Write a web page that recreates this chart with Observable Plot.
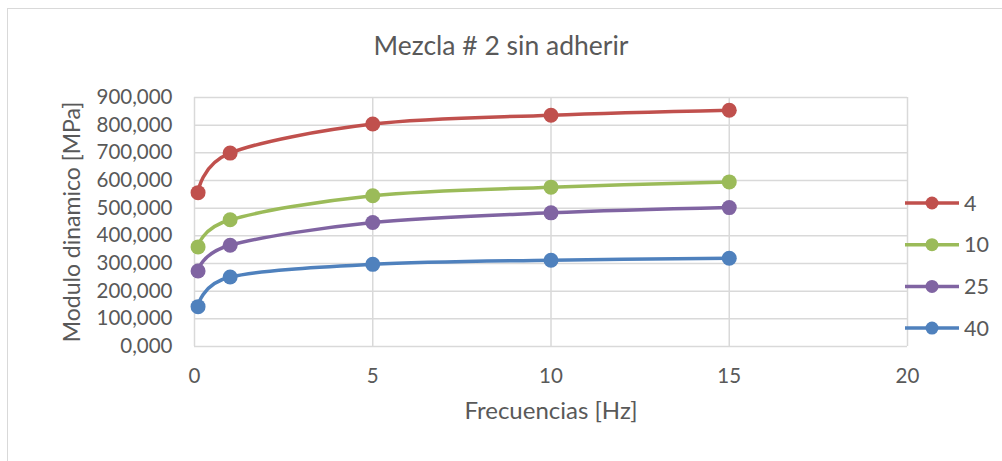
<!DOCTYPE html>
<html>
<head>
<meta charset="utf-8">
<script src="https://cdn.jsdelivr.net/npm/d3@7"></script>
<script src="https://cdn.jsdelivr.net/npm/@observablehq/plot@0.6"></script>
<style>
  html, body { margin: 0; padding: 0; background: #fff; }
  #wrap { position: relative; width: 1002px; height: 461px; overflow: hidden; font-family: Lato, sans-serif; }
  #border { position: absolute; left: 7px; top: 8px; width: 1100px; height: 600px; border: 1.5px solid #d9d9d9; box-sizing: border-box; }
  #title { position: absolute; left: 0; width: 1002px; top: 29px; text-align: center; font-size: 26.5px; color: #595959; }
  #chart { position: absolute; left: 0; top: 0; }
  #legend { position: absolute; left: 0; top: 0; }
</style>
</head>
<body>
<div id="wrap">
  <div id="border"></div>
  <div id="chart"></div>
  <div id="title">Mezcla # 2 sin adherir</div>
  <svg id="legend" width="1002" height="461"></svg>
</div>
<script>
const frequencies = [0.1, 1, 5, 10, 15];
const seriesNames = ["4", "10", "25", "40"];
const values4  = [556, 699, 804, 836, 854];
const values10 = [360, 458, 545, 576, 595];
const values25 = [273, 366, 448, 483, 502];
const values40 = [144, 251, 297, 312, 319];
const seriesColors = ["#C0504D", "#9BBB59", "#8064A2", "#4F81BD"];
const xTicks = [0, 5, 10, 15, 20];
const yTicks = [0, 100, 200, 300, 400, 500, 600, 700, 800, 900];
const xLabel = "Frecuencias [Hz]";
const yLabel = "Modulo dinamico [MPa]";

const seriesValues = [values4, values10, values25, values40];
const data = seriesNames.flatMap((s, i) =>
  frequencies.map((f, j) => ({series: s, freq: f, value: seriesValues[i][j]})));

const fmt = v => d3.format(".3f")(v).replace(".", ",");
const grid = "#d9d9d9";
const txt = "#595959";

const plot = Plot.plot({
  width: 1002,
  height: 461,
  marginTop: 97,
  marginBottom: 115,
  marginLeft: 194,
  marginRight: 95,
  style: {fontFamily: "Lato, sans-serif", fontSize: "20px", color: txt, background: "transparent"},
  x: {domain: [0, 20]},
  y: {domain: [0, 900]},
  color: {domain: seriesNames, range: seriesColors},
  marks: [
    Plot.gridX(xTicks, {stroke: grid, strokeOpacity: 1, strokeWidth: 1.5}),
    Plot.gridY(yTicks, {stroke: grid, strokeOpacity: 1, strokeWidth: 1.5}),
    Plot.axisX(xTicks, {tickSize: 0, tickPadding: 22, fontSize: 20.5, fill: txt, label: null}),
    Plot.axisY(yTicks, {tickSize: 0, tickPadding: 22, fontSize: 20.5, fill: txt, tickFormat: fmt, label: null}),
    Plot.text([xLabel], {frameAnchor: "bottom", dy: 72, fontSize: 24, fill: txt}),
    Plot.text([yLabel], {frameAnchor: "left", textAnchor: "middle", rotate: -90, dx: -122, fontSize: 23, fill: txt}),
    Plot.line(data, {x: "freq", y: "value", z: "series", stroke: "series", strokeWidth: 3.5, curve: "cardinal"}),
    Plot.dot(data, {x: "freq", y: "value", fill: "series", r: 7.5})
  ]
});
document.getElementById("chart").appendChild(plot);

// legend
const lg = d3.select("#legend");
const legendTop = 203, legendStep = 41.7;
seriesNames.forEach((s, i) => {
  const y = legendTop + i * legendStep;
  const g = lg.append("g");
  g.append("line").attr("x1", 905).attr("x2", 959).attr("y1", y).attr("y2", y)
    .attr("stroke", seriesColors[i]).attr("stroke-width", 3.5);
  g.append("circle").attr("cx", 932).attr("cy", y).attr("r", 6.5).attr("fill", seriesColors[i]);
  g.append("text").attr("x", 964).attr("y", y).attr("dy", "0.36em")
    .attr("font-size", 21.5).attr("fill", txt).attr("font-family", "Lato, sans-serif").text(s);
});
</script>
</body>
</html>
